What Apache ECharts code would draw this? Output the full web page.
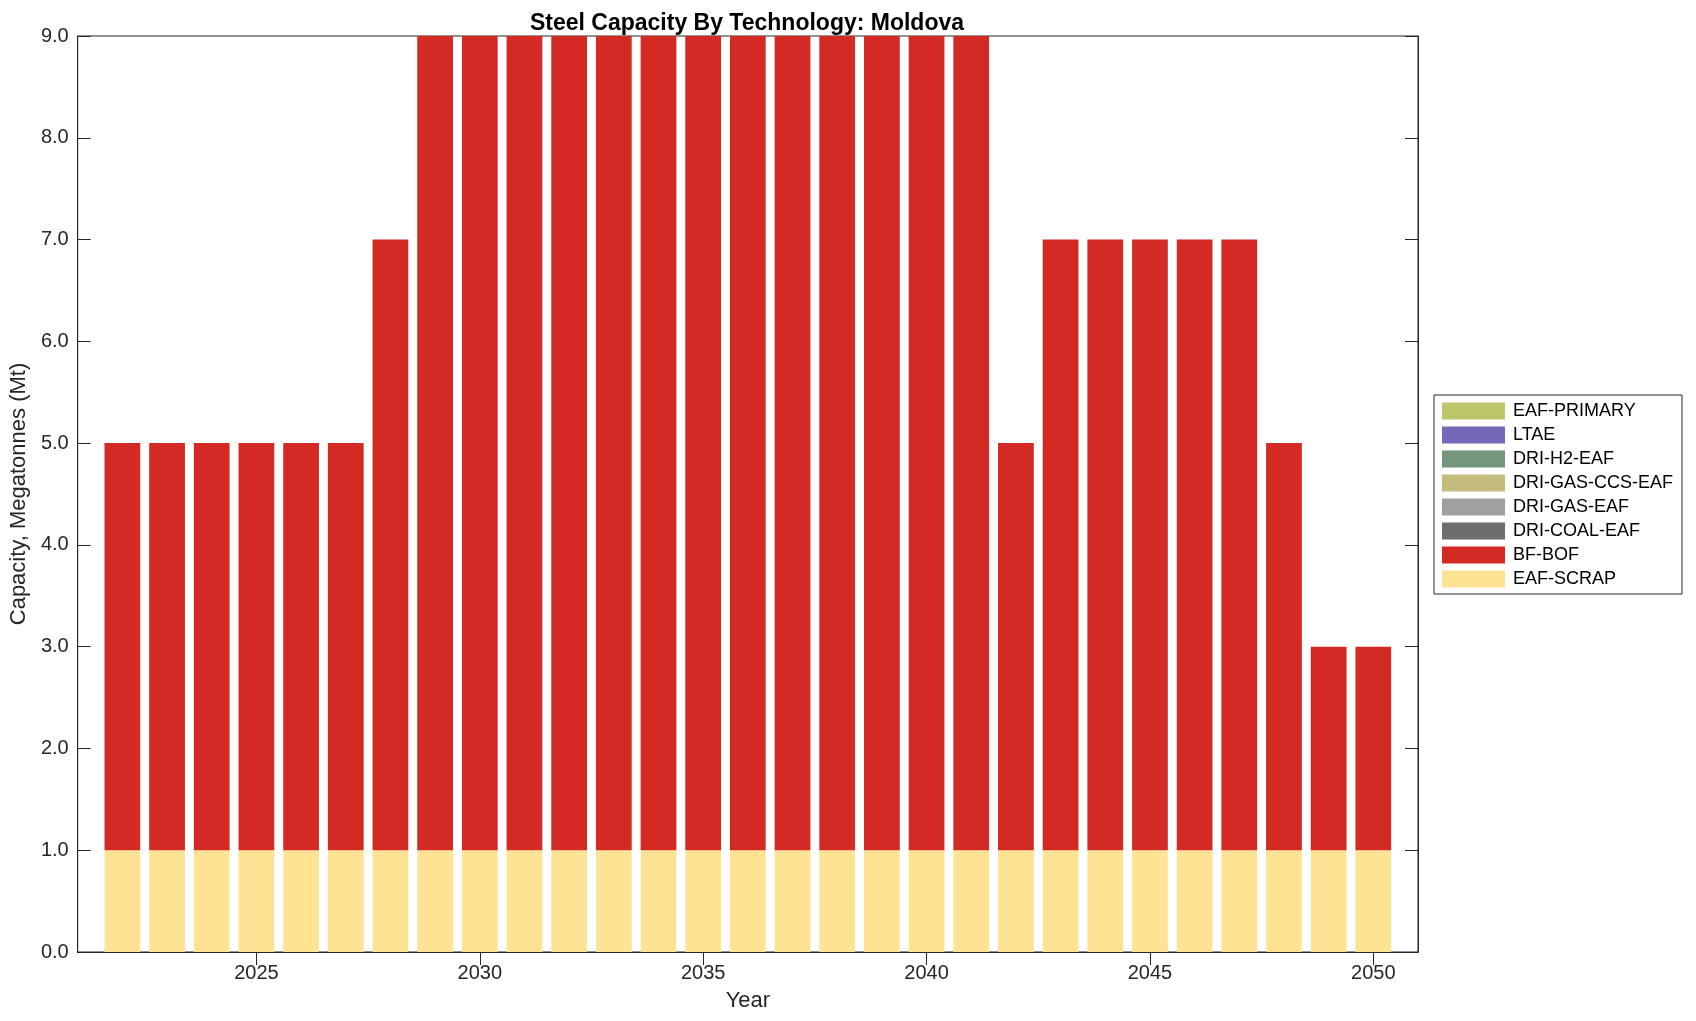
<!DOCTYPE html>
<html>
<head>
<meta charset="utf-8">
<script src="https://cdn.jsdelivr.net/npm/echarts@6/dist/echarts.min.js"></script>
<style>html,body{margin:0;padding:0;background:#fff;}#c{width:1696px;height:1021px;}</style>
</head>
<body>
<div id="c"></div>
<script>
const years = [2022,2023,2024,2025,2026,2027,2028,2029,2030,2031,2032,2033,2034,2035,2036,2037,2038,2039,2040,2041,2042,2043,2044,2045,2046,2047,2048,2049,2050];
const eafScrap = [1,1,1,1,1,1,1,1,1,1,1,1,1,1,1,1,1,1,1,1,1,1,1,1,1,1,1,1,1];
const bfBof    = [4,4,4,4,4,4,6,8,8,8,8,8,8,8,8,8,8,8,8,8,4,6,6,6,6,6,4,2,2];
const driCoalEaf = years.map(() => 0);
const driGasEaf = years.map(() => 0);
const driGasCcsEaf = years.map(() => 0);
const driH2Eaf = years.map(() => 0);
const ltae = years.map(() => 0);
const eafPrimary = years.map(() => 0);
const yTicks = [0,1,2,3,4,5,6,7,8,9];

const seriesDefs = [
  {name:'EAF-SCRAP', data:eafScrap, color:'#FFE394'},
  {name:'BF-BOF', data:bfBof, color:'#D42A24'},
  {name:'DRI-COAL-EAF', data:driCoalEaf, color:'#6E6E6E'},
  {name:'DRI-GAS-EAF', data:driGasEaf, color:'#A0A0A0'},
  {name:'DRI-GAS-CCS-EAF', data:driGasCcsEaf, color:'#C4BC7C'},
  {name:'DRI-H2-EAF', data:driH2Eaf, color:'#74967C'},
  {name:'LTAE', data:ltae, color:'#7468B8'},
  {name:'EAF-PRIMARY', data:eafPrimary, color:'#BEC66C'}
];

// pad one empty category on each side so the axis runs from year-1 to year+1
const cats = [String(years[0]-1)].concat(years.map(String), [String(years[years.length-1]+1)]);
const pad = arr => ['-'].concat(arr, ['-']);
const showYear = (i, v) => (+v) % 5 === 0;

const FONT = 'Liberation Sans, Arial, Helvetica, sans-serif';
const TXT = '#262626';

const chart = echarts.init(document.getElementById('c'), null, {renderer:'canvas'});
chart.setOption({
  backgroundColor:'#fff',
  animation:false,
  textStyle:{fontFamily:FONT, color:TXT},
  title:{
    text:'Steel Capacity By Technology: Moldova',
    left:742, textAlign:'center', top:7,
    textStyle:{fontFamily:FONT, fontSize:23, fontWeight:'bold', color:'#000'}
  },
  grid:{left:76.5, top:36, right:278, bottom:69, show:true, borderColor:TXT, borderWidth:1, backgroundColor:'transparent', containLabel:false},
  legend:{
    orient:'vertical', left:1434, top:395,
    data: seriesDefs.map(s => s.name).reverse(),
    itemWidth:63, itemHeight:17, itemGap:6,
    padding:[7,9,6,8],
    borderColor:TXT, borderWidth:1, backgroundColor:'#fff',
    textStyle:{fontFamily:FONT, fontSize:18, color:'#000', padding:[0,0,0,3]},
    icon:'rect', selectedMode:false
  },
  xAxis:[{
    type:'category', data:cats, boundaryGap:false, position:'bottom',
    name:'Year', nameLocation:'middle', nameGap:38,
    nameTextStyle:{fontFamily:FONT, fontSize:22, color:TXT},
    axisLine:{show:true, lineStyle:{color:TXT, width:1}},
    axisTick:{show:true, inside:true, length:13, interval:showYear, lineStyle:{color:TXT}},
    axisLabel:{show:true, interval:showYear, margin:11, fontFamily:FONT, fontSize:20, color:TXT},
    splitLine:{show:false}
  },{
    type:'category', data:cats, boundaryGap:false, position:'top',
    axisLine:{show:true, lineStyle:{color:TXT, width:1}},
    axisTick:{show:true, inside:true, length:13, interval:showYear, lineStyle:{color:TXT}},
    axisLabel:{show:false}, splitLine:{show:false}
  }],
  yAxis:[{
    type:'value', min:yTicks[0], max:yTicks[yTicks.length-1], interval:1, position:'left',
    name:'Capacity, Megatonnes (Mt)', nameLocation:'middle', nameGap:46,
    nameTextStyle:{fontFamily:FONT, fontSize:22, color:TXT},
    axisLine:{show:true, lineStyle:{color:TXT, width:1}},
    axisTick:{show:true, inside:true, length:13, lineStyle:{color:TXT}},
    axisLabel:{show:true, margin:9, fontFamily:FONT, fontSize:20, color:TXT, formatter:v => v.toFixed(1)},
    splitLine:{show:false}
  },{
    type:'value', min:yTicks[0], max:yTicks[yTicks.length-1], interval:1, position:'right',
    axisLine:{show:true, lineStyle:{color:TXT, width:1}},
    axisTick:{show:true, inside:true, length:13, lineStyle:{color:TXT}},
    axisLabel:{show:false}, splitLine:{show:false}
  }],
  series: seriesDefs.map(s => ({
    name:s.name, type:'bar', stack:'total', xAxisIndex:0, yAxisIndex:0,
    data:pad(s.data), barWidth:'80%',
    itemStyle:{color:s.color},
    emphasis:{disabled:true}
  }))
});
</script>
</body>
</html>
